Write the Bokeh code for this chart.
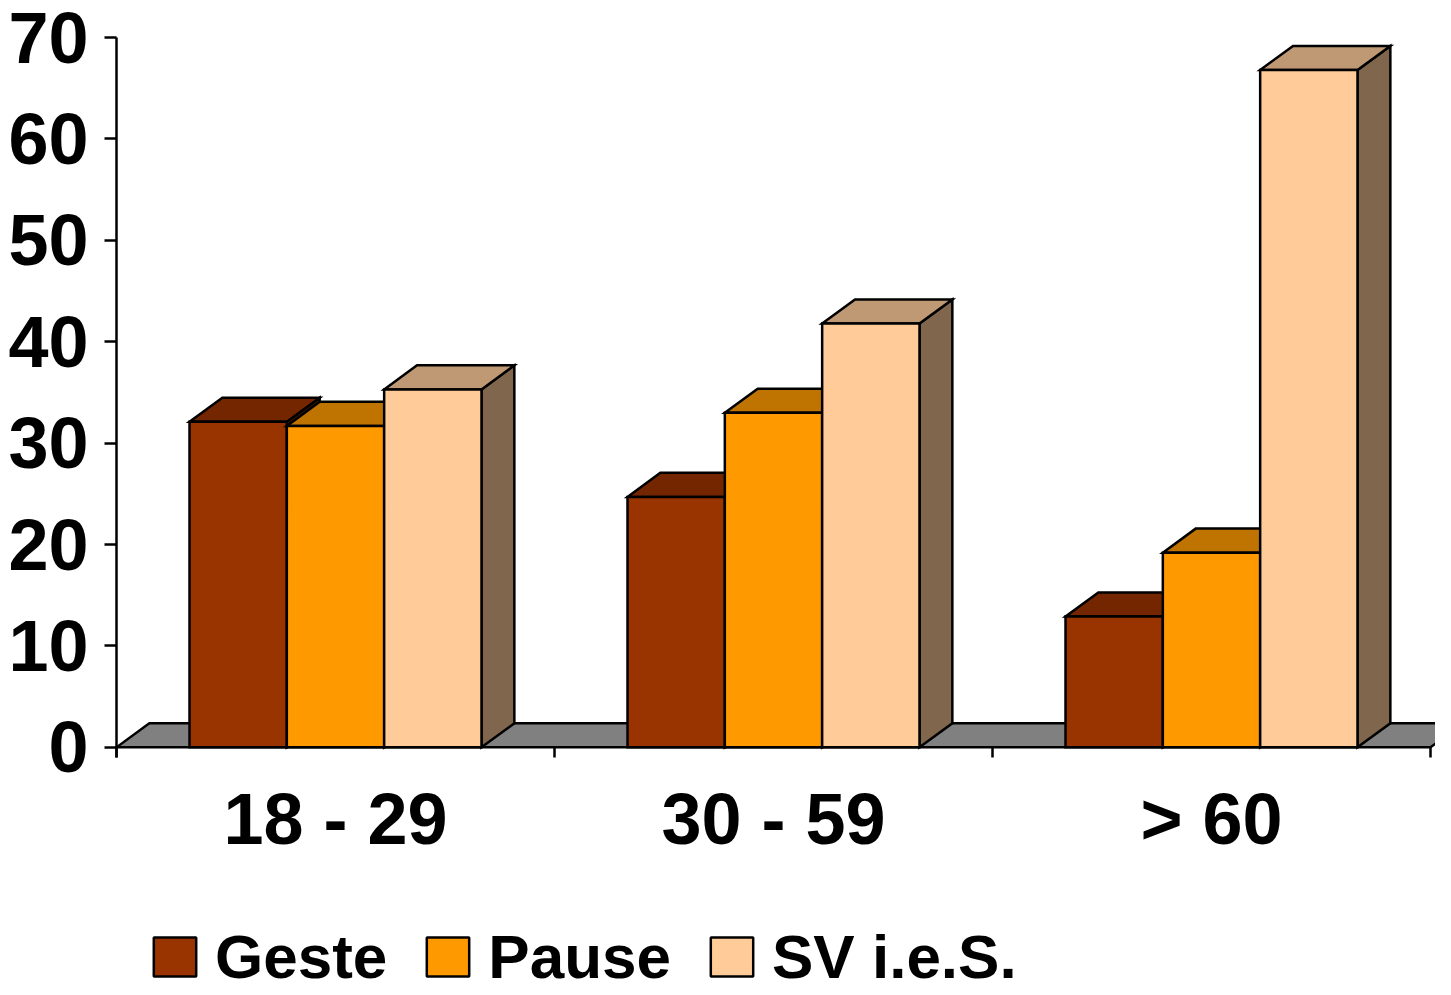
from bokeh.plotting import figure
from bokeh.layouts import column
from bokeh.models import FixedTicker, Range1d, Legend, LegendItem, ColumnDataSource
from bokeh.embed import file_html
from bokeh.resources import INLINE

# ---- data ----
categories = ["18 - 29", "30 - 59", "> 60"]
series_names = ["Geste", "Pause", "SV i.e.S."]
geste = [32.1, 24.7, 12.9]
pause = [31.7, 33.0, 19.2]
sv_ies = [35.3, 41.8, 66.8]
y_ticks = [0, 10, 20, 30, 40, 50, 60, 70]

front_colors = ["#993300", "#FF9900", "#FFCC99"]
top_colors = ["#732600", "#BF7300", "#BF9973"]
side_colors = ["#4D1A00", "#804D00", "#80664D"]

# ---- geometry constants (category units / value units) ----
BW = 1 / 4.5          # bar width (gap width 150%)
DX = 0.075            # oblique depth offset, x
DY = 2.37             # oblique depth offset, y
PX_PER_CAT = 438

W = 1435
H_CHART, H_LEG = 900, 79
LEFT, TOP = 116, 37
FRAME_H = 720
BOTTOM = H_CHART - TOP - FRAME_H
frame_w = W - LEFT

p = figure(width=W, height=H_CHART, output_backend="svg", toolbar_location=None,
           x_range=Range1d(0, frame_w / PX_PER_CAT), y_range=Range1d(-1, 70),
           min_border_left=LEFT, min_border_right=0, min_border_top=TOP,
           min_border_bottom=BOTTOM, title=None)
p.outline_line_color = None
p.grid.visible = False
p.background_fill_color = "white"

# floor
ncat = len(categories)
p.patch(x=[0, ncat, ncat + DX, DX], y=[0, 0, DY, DY],
        fill_color="#808080", line_color="black", line_width=2.5)

all_series = [geste, pause, sv_ies]
sources = []
for si, vals in enumerate(all_series):
    lefts, rights = [], []
    for ci, v in enumerate(vals):
        c = ci + 0.5 + (si - 1) * BW
        lefts.append(c - BW / 2)
        rights.append(c + BW / 2)
    side_xs = [[r, r + DX, r + DX, r] for r in rights]
    side_ys = [[0, DY, v + DY, v] for v in vals]
    top_xs = [[l, r, r + DX, l + DX] for l, r in zip(lefts, rights)]
    top_ys = [[v, v, v + DY, v + DY] for v in vals]
    p.patches(xs=side_xs, ys=side_ys, fill_color=side_colors[si],
              line_color="black", line_width=2.5, line_join="miter")
    p.patches(xs=top_xs, ys=top_ys, fill_color=top_colors[si],
              line_color="black", line_width=2.5, line_join="miter")
    src = ColumnDataSource(dict(x=[(l + r) / 2 for l, r in zip(lefts, rights)], top=vals))
    sources.append(src)
    p.vbar(x="x", top="top", bottom=0, width=BW, source=src,
           fill_color=front_colors[si], line_color="black", line_width=2.5,
           line_join="miter")

# y axis
yax = p.yaxis[0]
yax.ticker = FixedTicker(ticks=y_ticks)
yax.axis_line_width = 2.5
yax.axis_line_color = "black"
yax.major_tick_out = 12
yax.major_tick_in = 0
yax.major_tick_line_width = 2.5
yax.minor_tick_line_color = None
yax.major_label_text_font = "Liberation Sans"
yax.major_label_text_font_style = "bold"
yax.major_label_text_font_size = "72px"
yax.major_label_text_color = "black"
yax.major_label_standoff = 16

# x axis
xax = p.xaxis[0]
xax.ticker = FixedTicker(ticks=[i + 0.5 for i in range(ncat)],
                         minor_ticks=list(range(ncat + 1)))
xax.major_label_overrides = {i + 0.5: lab for i, lab in enumerate(categories)}
xax.axis_line_color = None
xax.major_tick_line_color = None
xax.major_tick_out = 0
xax.major_tick_in = 0
xax.minor_tick_in = 10
xax.minor_tick_out = 0
xax.minor_tick_line_width = 2.5
xax.minor_tick_line_color = "black"
xax.major_label_text_font = "Liberation Sans"
xax.major_label_text_font_style = "bold"
xax.major_label_text_font_size = "72px"
xax.major_label_text_color = "black"
xax.major_label_standoff = 21

# ---- legend strip (frame aligned with the chart frame) ----
pl = figure(width=W, height=H_LEG, output_backend="svg", toolbar_location=None,
            x_range=Range1d(0, 1), y_range=Range1d(0, 1), x_axis_type=None,
            y_axis_type=None, min_border=0, min_border_left=LEFT, title=None)
pl.outline_line_color = None
pl.grid.visible = False
legend_items = []
for si, name in enumerate(series_names):
    r = pl.vbar(x="x", top="top", bottom=0, width=BW, source=sources[si],
                fill_color=front_colors[si], line_color="black", line_width=2.5,
                visible=False)
    legend_items.append(LegendItem(label=name, renderers=[r]))

legend = Legend(items=legend_items, orientation="horizontal",
                location=(32, -13), margin=0, padding=0, spacing=34,
                glyph_width=53, glyph_height=49, label_standoff=14,
                label_text_font="Liberation Sans", label_text_font_style="bold",
                label_text_font_size="62px", label_text_color="black",
                inactive_fill_alpha=0, border_line_color=None,
                background_fill_alpha=0)
pl.add_layout(legend, "center")

layout = column(p, pl, spacing=0)
open("out.html", "w").write(file_html(layout, INLINE))
